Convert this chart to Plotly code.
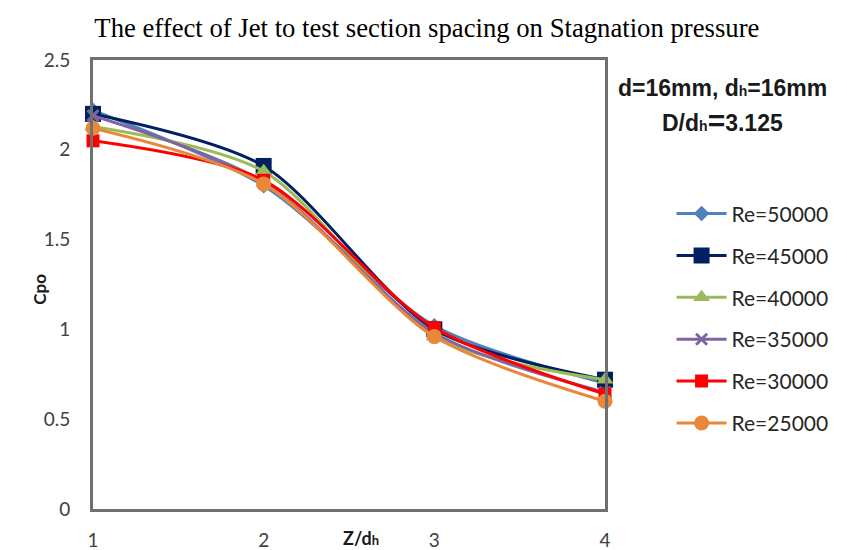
import plotly.graph_objects as go

x_vals = [1, 2, 3, 4]
series_names = ["Re=50000", "Re=45000", "Re=40000", "Re=35000", "Re=30000", "Re=25000"]
re50000 = [2.22, 1.80, 1.02, 0.70]
re45000 = [2.20, 1.91, 1.00, 0.72]
re40000 = [2.13, 1.88, 0.96, 0.72]
re35000 = [2.19, 1.82, 0.98, 0.65]
re30000 = [2.05, 1.83, 1.01, 0.64]
re25000 = [2.12, 1.81, 0.96, 0.60]
series_values = [re50000, re45000, re40000, re35000, re30000, re25000]

colors = ["#4F81BD", "#002060", "#9BBB59", "#8064A2", "#FF0000", "#E8883A"]
symbols = ["diamond", "square", "triangle-up", "x-thin", "square", "circle"]
sizes = [12, 16, 15, 11, 13, 15]

fig = go.Figure()
for i, (name, vals) in enumerate(zip(series_names, series_values)):
    mk = dict(symbol=symbols[i], size=sizes[i], color=colors[i])
    if symbols[i] == "x-thin":
        mk["line"] = dict(color=colors[i], width=3)
    fig.add_trace(go.Scatter(
        x=x_vals, y=vals, name=name, mode="lines+markers",
        line=dict(color=colors[i], width=3, shape="spline", smoothing=0.8),
        marker=mk, cliponaxis=False, legendgroup=name,
    ))

tick_font = dict(family="Lato, Open Sans, sans-serif", size=19, color="#404040")

fig.update_layout(
    width=847, height=550,
    margin=dict(l=93, r=242, t=60, b=41, autoexpand=False),
    paper_bgcolor="white", plot_bgcolor="white",
    title=dict(text="The effect of Jet to test section spacing on Stagnation pressure",
               font=dict(family="Liberation Serif, Times New Roman, serif", size=26.7, color="black"),
               x=0.504, xanchor="center", y=0.95, yanchor="middle"),
    xaxis=dict(range=[1, 4], tickvals=[1, 2, 3, 4], showgrid=False, zeroline=False,
               showline=True, mirror=True, linecolor="#707070", linewidth=3,
               ticks="", tickfont=tick_font, ticklabelstandoff=12),
    yaxis=dict(range=[0, 2.5], tickvals=[0, 0.5, 1, 1.5, 2, 2.5],
               ticktext=["0", "0.5", "1", "1.5", "2", "2.5"],
               showgrid=False, zeroline=False,
               showline=True, mirror=True, linecolor="#707070", linewidth=3,
               ticks="", tickfont=tick_font, ticklabelstandoff=16),
    showlegend=True,
    legend=dict(x=1.13, y=0.703, xanchor="left", yanchor="top",
                font=dict(family="Lato, Open Sans, sans-serif", size=21, color="#262626"),
                tracegroupgap=11.6, itemwidth=50, bgcolor="rgba(0,0,0,0)"),
    font=dict(family="Lato, Open Sans, sans-serif"),
)

fig.add_annotation(text="<b>d=16mm, d<span style='font-size:14px'>h</span>=16mm</b>",
                   xref="paper", yref="paper",
                   x=1.23, y=0.938, xanchor="center", yanchor="middle", showarrow=False,
                   font=dict(family="Liberation Sans, Arial, sans-serif", size=23, color="#1a1a1a"))
fig.add_annotation(text="<b>D/d<span style='font-size:14px'>h</span><span style='font-size:30px'>=</span>3.125</b>",
                   xref="paper", yref="paper",
                   x=1.23, y=0.866, xanchor="center", yanchor="middle", showarrow=False,
                   font=dict(family="Liberation Sans, Arial, sans-serif", size=23, color="#1a1a1a"))
fig.add_annotation(text="<b>Cpo</b>", xref="paper", yref="paper",
                   x=-0.104, y=0.49, xanchor="center", yanchor="middle", textangle=-90, showarrow=False,
                   font=dict(family="Lato, Open Sans, sans-serif", size=17, color="#1a1a1a"))
fig.add_annotation(text="<b>Z/d<span style='font-size:13px'>h</span></b>", xref="paper", yref="paper",
                   x=0.523, y=-0.035, xanchor="center", yanchor="top", showarrow=False,
                   font=dict(family="Lato, Open Sans, sans-serif", size=18, color="#1a1a1a"))

fig.write_html("out.html", config={"displayModeBar": False},
               post_script="document.body.style.margin='0';")
